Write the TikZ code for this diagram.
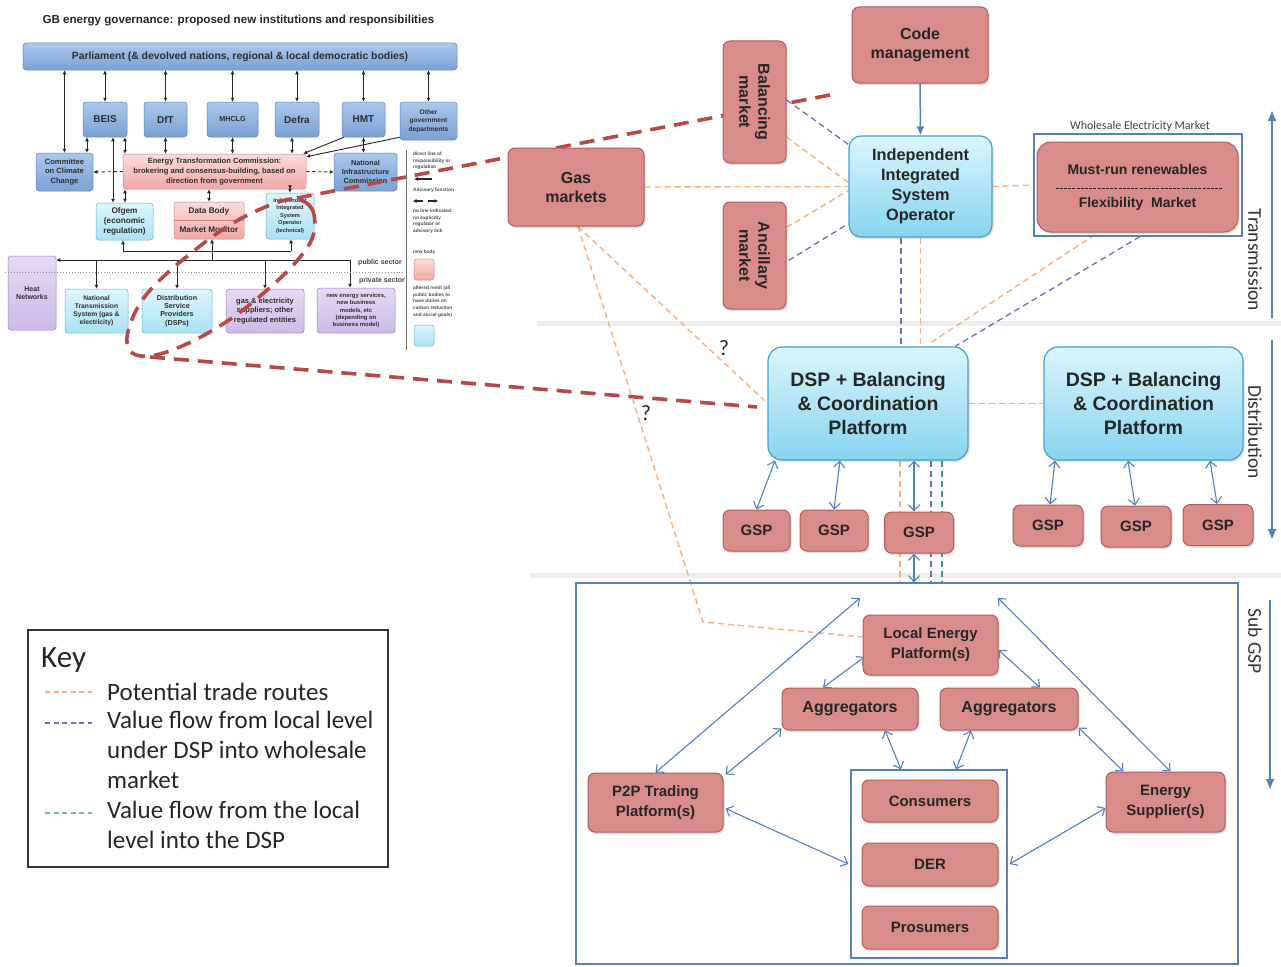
\documentclass[tikz,border=0pt]{standalone}
\usepackage{fontspec}
\setmainfont{Liberation Sans}
\newfontfamily\carl{Carlito}
\usetikzlibrary{arrows.meta,shadows,calc}

\definecolor{pinkF}{RGB}{216,141,138}
\definecolor{pinkD}{RGB}{178,92,90}
\definecolor{cyanT}{RGB}{218,245,253}
\definecolor{cyanB}{RGB}{135,212,238}
\definecolor{cyanD}{RGB}{72,160,200}
\definecolor{linkBlue}{RGB}{79,129,189}
\definecolor{tradeOr}{RGB}{241,178,120}
\definecolor{valPur}{RGB}{112,112,170}
\definecolor{valGr}{RGB}{38,170,110}
\definecolor{callRed}{RGB}{184,72,70}
\definecolor{bandGray}{RGB}{236,237,238}
\definecolor{frameBlue}{RGB}{85,128,185}
\definecolor{govT}{RGB}{170,200,236}
\definecolor{govB}{RGB}{122,160,210}
\definecolor{govD}{RGB}{95,130,182}
\definecolor{etcT}{RGB}{253,220,218}
\definecolor{etcB}{RGB}{240,168,165}
\definecolor{etcD}{RGB}{212,125,122}
\definecolor{lbT}{RGB}{222,246,252}
\definecolor{lbB}{RGB}{168,226,244}
\definecolor{lbD}{RGB}{112,172,206}
\definecolor{lavT}{RGB}{230,218,244}
\definecolor{lavB}{RGB}{204,186,230}
\definecolor{lavD}{RGB}{150,130,190}

\pgfdeclarelayer{back}
\pgfdeclarelayer{mid}
\pgfsetlayers{back,mid,main}

\tikzset{
  pinkbox/.style={draw=pinkD, line width=1pt, fill=pinkF, rounded corners=7pt, align=center,
    inner sep=0pt, text=black!85, font=\bfseries\fontsize{16}{19}\selectfont,
    drop shadow={opacity=0.25, shadow xshift=1.5pt, shadow yshift=-2pt}},
  gspbox/.style={pinkbox, minimum width=68, minimum height=41, font=\bfseries\fontsize{15}{18}\selectfont},
  localbox/.style={pinkbox, font=\bfseries\fontsize{15}{20}\selectfont},
  cyanbox/.style={draw=cyanD, line width=1.2pt, top color=cyanT, bottom color=cyanB,
    rounded corners=12pt, align=center, inner sep=0pt, text=black!85,
    drop shadow={opacity=0.25, shadow xshift=1.5pt, shadow yshift=-2pt}},
  framebox/.style={draw=frameBlue, line width=1.2pt, inner sep=0pt},
  bidi/.style={draw=linkBlue, line width=1.1pt,
    {Straight Barb[length=6pt,width=11pt,line width=1.1pt]}-{Straight Barb[length=6pt,width=11pt,line width=1.1pt]}},
  trade/.style={draw=tradeOr, line width=1.4pt, dash pattern=on 6pt off 4pt},
  wsale/.style={draw=valPur, line width=1.3pt, dash pattern=on 6pt off 4pt},
  dspval/.style={draw=valGr, line width=1.3pt, dash pattern=on 6pt off 4pt},
  callout/.style={draw=callRed, line width=3.6pt, dash pattern=on 15pt off 9pt},
  band/.style={draw=bandGray, line width=5pt},
  levelarrow/.style={draw=linkBlue, line width=2.4pt, -{Latex[length=11pt,width=9pt]}},
  levellabel/.style={rotate=-90, font=\carl\fontsize{19.5}{21}\selectfont, text=black!80},
  keytext/.style={font=\carl\fontsize{25}{30}\selectfont, text=black!85, inner sep=0pt, align=left},
  % governance inset
  gov/.style={draw=govD, line width=0.5pt, top color=govT, bottom color=govB, rounded corners=3pt,
    align=center, inner sep=0pt, text=black!82, font=\bfseries\fontsize{10}{11}\selectfont},
  newbody/.style={gov, draw=etcD, top color=etcT, bottom color=etcB},
  altered/.style={gov, draw=lbD, top color=lbT, bottom color=lbB},
  regulated/.style={gov, draw=lavD, top color=lavT, bottom color=lavB},
  gline/.style={draw=black!85, line width=0.9pt},
  gone/.style={gline, -{Latex[length=4pt,width=4pt]}},
  gtwo/.style={gline, {Latex[length=4pt,width=4pt]}-{Latex[length=4pt,width=4pt]}},
  gadv/.style={gline, dashed, -{Latex[length=4pt,width=4pt]}},
  legtext/.style={anchor=north west, align=left, inner sep=0pt, text=black!70,
    font=\bfseries\fontsize{4.8}{6.6}\selectfont},
}

\begin{document}
\begin{tikzpicture}[x=1pt,y=-1pt]
\useasboundingbox (0,0) rectangle (1281,966);

% ---------------- governance inset (bottom layer) ----------------
\begin{pgfonlayer}{back}
\fill[white] (0,0) rectangle (1281,966);

\node[anchor=west, font=\bfseries\fontsize{11.6}{13}\selectfont, text=black!85] (govtitle) at (39,21)
  {GB energy governance: proposed new institutions and responsibilities};
\node[gov, minimum width=434, minimum height=27, font=\bfseries\fontsize{10.4}{12}\selectfont] (parl) at (240,56.5)
  {Parliament (\& devolved nations, regional \& local democratic bodies)};

\node[gov, minimum width=44, minimum height=35] (beis) at (105,119.5) {BEIS};
\node[gov, minimum width=43, minimum height=35] (dft) at (165.5,119.5) {DfT};
\node[gov, minimum width=51, minimum height=35, font=\bfseries\fontsize{7.2}{8}\selectfont] (mhclg) at (232.5,119.5) {MHCLG};
\node[gov, minimum width=44, minimum height=35] (defra) at (297,119.5) {Defra};
\node[gov, minimum width=43, minimum height=35] (hmt) at (363.5,119.5) {HMT};
\node[gov, minimum width=57, minimum height=38, font=\bfseries\fontsize{6.6}{8.3}\selectfont] (other) at (428.5,121)
  {Other\\government\\departments};

\node[gov, minimum width=57, minimum height=38, font=\bfseries\fontsize{7.6}{9.5}\selectfont] (ccc) at (64.5,172)
  {Committee\\on Climate\\Change};
\node[newbody, minimum width=183, minimum height=35, font=\bfseries\fontsize{7.6}{9.6}\selectfont] (etc) at (214.5,171.5)
  {Energy Transformation Commission:\\brokering and consensus-building, based on\\direction from government};
\node[gov, minimum width=63, minimum height=38, font=\bfseries\fontsize{7.3}{9}\selectfont] (nic) at (365.5,172)
  {National\\Infrastructure\\Commission};

\node[altered, minimum width=57, minimum height=37, font=\bfseries\fontsize{8.2}{10}\selectfont] (ofgem) at (124.5,221.5)
  {Ofgem\\(economic\\regulation)};
\node[newbody, minimum width=70, minimum height=37, font=\bfseries\fontsize{8.2}{19}\selectfont] (databody) at (209,220.5)
  {Data Body\\Market Monitor};
\draw[etcD, line width=0.5pt] (databody.west) -- (databody.east);
\node[altered, minimum width=48, minimum height=46, font=\bfseries\fontsize{5.6}{7.5}\selectfont] (iso) at (290,216)
  {Independent\\Integrated\\System\\Operator\\(technical)};

\node[regulated, minimum width=48, minimum height=74, font=\bfseries\fontsize{7}{8}\selectfont] (heat) at (32,293)
  {Heat\\Networks};
\node[altered, minimum width=63, minimum height=44, font=\bfseries\fontsize{6.7}{7.9}\selectfont] (nts) at (96.5,311)
  {National\\Transmission\\System (gas \&\\electricity)};
\node[altered, minimum width=70, minimum height=44, font=\bfseries\fontsize{7.2}{8.2}\selectfont] (dsps) at (177,311)
  {Distribution\\Service\\Providers\\(DSPs)};
\node[regulated, minimum width=78, minimum height=44, font=\bfseries\fontsize{7.5}{9.2}\selectfont] (gassup) at (265,311)
  {gas \& electricity\\suppliers; other\\regulated entities};
\node[regulated, minimum width=78, minimum height=45, font=\bfseries\fontsize{5.9}{7.4}\selectfont] (newen) at (356,310.5)
  {new energy services,\\new business\\models, etc\\(depending on\\business model)};

% parliament links
\foreach \n in {ccc,beis,dft,mhclg,defra,hmt,other}
  \draw[gtwo] (parl.south -| \n.north) -- (\n.north);
% department links
\coordinate (beisA) at ($(beis.south)+(-18,0)$);
\coordinate (beisB) at ($(beis.south)+(8,0)$);
\coordinate (beisC) at ($(beis.south)+(20,0)$);
\draw[gtwo] (beisA) -- (beisA |- ccc.north);
\draw[gtwo] (beisB) -- (beisB |- ofgem.north);
\draw[gtwo] (beisC) -- (beisC |- etc.north);
\draw[gtwo] (beisC |- etc.south) -- (beisC |- ofgem.north);
\draw[gtwo] (dft.south) -- (dft.south |- etc.north);
\draw[gtwo] (mhclg.south) -- (mhclg.south |- etc.north);
\draw[gtwo] ($(defra.south)+(-5,0)$) -- ($(defra.south |- etc.north)+(-5,0)$);
\draw[gone] ($(hmt.south west)+(2,0)$) -- ($(etc.north east)+(-3,0)$);
\draw[gone] ($(other.south west)+(0,-3)$) -- ($(etc.north east)+(0,3)$);
\draw[gtwo] (hmt.south) -- (hmt.south |- nic.north);
\draw[gadv] (etc.west) -- (ccc.east);
\draw[gadv] (etc.east) -- (nic.west);
\draw[gtwo] (etc.south -| databody.north) -- (databody.north);
\draw[gtwo] (etc.south -| iso.north) -- (iso.north);
% regulation bus
\coordinate (busL) at (123,251);
\coordinate (busR) at (291,251);
\coordinate (busM) at (212,260);
\coordinate (mainR) at (350,260);
\draw[gline] (busL) -- (busR);
\draw[gone] (busL) -- (busL |- ofgem.south);
\draw[gone] (busR) -- (busR |- iso.south);
\draw[gone] (busM) -- (busM |- databody.south);
\draw[gone] (mainR) -- (heat.east |- mainR);
\foreach \n in {nts,dsps,gassup}
  \draw[gone] (\n.north |- mainR) -- (\n.north);
\draw[gone] (mainR) -- (mainR |- newen.north);
\coordinate (secL) at (5,272);
\coordinate (secR) at (404,272);
\draw[black!45, line width=0.9pt, dotted] (secL) -- (secR);
\node[font=\bfseries\fontsize{7}{8}\selectfont, text=black!75] (pub) at (380,263) {public sector};
\node[font=\bfseries\fontsize{7}{8}\selectfont, text=black!75] (priv) at (382,280.5) {private sector};

% inset legend
\coordinate (legT) at (406,150);
\coordinate (legB) at (406,350);
\draw[black!55, line width=0.7pt] (legT) -- (legB);
\node[legtext] (leg1) at (413,152) {direct line of\\responsibility or\\regulation};
\coordinate (legA1) at (432,179);
\coordinate (legA2) at (414,179);
\draw[gline, line width=1.2pt, -{Latex[length=4pt,width=4pt]}] (legA1) -- (legA2);
\node[legtext] (leg2) at (413,188) {Advisory function};
\coordinate (legD1) at (423,201);
\coordinate (legD2) at (413,201);
\coordinate (legD3) at (428,201);
\coordinate (legD4) at (438,201);
\draw[gline, line width=1.1pt, -{Latex[length=3.5pt,width=4pt]}] (legD1) -- (legD2);
\draw[gline, line width=1.1pt, -{Latex[length=3.5pt,width=4pt]}] (legD3) -- (legD4);
\node[legtext] (leg3) at (413,209) {no line indicated:\\no explicitly\\regulator or\\advisory link};
\node[legtext] (leg4) at (413,250) {new body};
\node[newbody, minimum width=20, minimum height=21] (legpink) at (424,269.5) {};
\node[legtext] (leg5) at (413,286) {altered remit (all\\public bodies to\\have duties on\\carbon reduction\\and social goals)};
\node[altered, minimum width=20, minimum height=21] (legblue) at (424,335.5) {};

% level bands
\coordinate (bandAL) at (537,323);
\coordinate (bandAR) at (1281,323);
\coordinate (bandBL) at (530,575);
\coordinate (bandBR) at (1281,575);
\draw[band] (bandAL) -- (bandAR);
\draw[band] (bandBL) -- (bandBR);
\end{pgfonlayer}

% ---------------- main nodes ----------------
\node[pinkbox, minimum width=136, minimum height=76] (code) at (920,45) {Code\\management};
\node[pinkbox, rotate=-90, minimum width=122, minimum height=63] (bal) at (754.5,102) {Balancing\\market};
\node[pinkbox, rotate=-90, minimum width=107, minimum height=63] (anc) at (754.5,255.5) {Ancillary\\market};
\node[pinkbox, minimum width=136, minimum height=78] (gas) at (576,187) {Gas\\markets};
\node[cyanbox, minimum width=143, minimum height=101, font=\bfseries\fontsize{16.3}{20}\selectfont] (iiso) at (920.5,186.5)
  {Independent\\Integrated\\System\\Operator};

\node[font=\carl\fontsize{12}{14}\selectfont, text=black!75] (wemlabel) at (1140,126) {Wholesale Electricity Market};
\node[framebox, minimum width=208, minimum height=102] (wemframe) at (1138,185) {};
\node[pinkbox, rounded corners=14pt, minimum width=201, minimum height=90, font=\bfseries\fontsize{14}{33}\selectfont] (wem)
  at (1137.5,187) {Must-run renewables\\Flexibility~~Market};
\draw[black!85, line width=1pt, dash pattern=on 3pt off 1.2pt] ($(wem.center)+(-82,1)$) -- ($(wem.center)+(84,1)$);

\node[cyanbox, rounded corners=14pt, minimum width=200, minimum height=113, font=\bfseries\fontsize{19.5}{24}\selectfont]
  (dsp1) at (868,403.5) {DSP + Balancing\\\& Coordination\\Platform};
\node[cyanbox, rounded corners=14pt, minimum width=199, minimum height=113, font=\bfseries\fontsize{19.5}{24}\selectfont]
  (dsp2) at (1143.5,403.5) {DSP + Balancing\\\& Coordination\\Platform};

\node[gspbox, minimum width=67] (g1) at (756.5,530.5) {GSP};
\node[gspbox] (g2) at (834,530.5) {GSP};
\node[gspbox, minimum width=69] (g3) at (919,532.5) {GSP};
\node[gspbox, minimum width=70] (g4) at (1048,525.5) {GSP};
\node[gspbox, minimum width=70] (g5) at (1136,526.5) {GSP};
\node[gspbox, minimum width=70] (g6) at (1218,525) {GSP};

\node[framebox, minimum width=662, minimum height=381] (subgsp) at (907,773.5) {};
\node[localbox, minimum width=135, minimum height=60] (lep) at (930.5,645) {Local Energy\\Platform(s)};
\node[localbox, minimum width=136, minimum height=42, font=\bfseries\fontsize{16}{19}\selectfont] (agg1) at (850,709) {Aggregators};
\node[localbox, minimum width=138, minimum height=42, font=\bfseries\fontsize{16}{19}\selectfont] (agg2) at (1009,709) {Aggregators};
\node[localbox, minimum width=135, minimum height=59] (p2p) at (655.5,802.5) {P2P Trading\\Platform(s)};
\node[localbox, minimum width=119, minimum height=60] (es) at (1165.5,802) {Energy\\Supplier(s)};
\node[framebox, minimum width=156, minimum height=188] (cbox) at (929,864) {};
\node[localbox, minimum width=136, minimum height=42] (cons) at (930,801) {Consumers};
\node[localbox, minimum width=136, minimum height=43] (der) at (930,864.5) {DER};
\node[localbox, minimum width=136, minimum height=43] (pros) at (930,927.5) {Prosumers};

\node[font=\carl\fontsize{22}{24}\selectfont, text=black!85] (q1) at (724,348) {?};
\node[font=\carl\fontsize{22}{24}\selectfont, text=black!85] (q2) at (646,413) {?};

% voltage-level arrows
\coordinate (trB) at (1272,318);
\coordinate (trT) at (1272,110);
\draw[levelarrow] (trB) -- (trT);
\node[levellabel] (trl) at (1255,260) {Transmission};
\coordinate (diT) at (1272,340);
\coordinate (diB) at (1272,540);
\draw[levelarrow] (diT) -- (diB);
\node[levellabel] (dil) at (1255,432) {Distribution};
\coordinate (sgT) at (1270,600);
\coordinate (sgB) at (1270,790);
\draw[levelarrow] (sgT) -- (sgB);
\node[levellabel] (sgl) at (1255,641) {Sub GSP};

% key
\node[draw=black!80, line width=1.3pt, minimum width=360, minimum height=237, inner sep=0pt] (key) at (208,748.5) {};
\node[anchor=west, font=\carl\fontsize{31}{33}\selectfont, text=black!85, inner sep=0pt] (keyt) at (41,660) {Key};
\coordinate (k1a) at (45,692); \coordinate (k1b) at (92,692);
\coordinate (k2a) at (45,723); \coordinate (k2b) at (92,723);
\coordinate (k3a) at (45,813); \coordinate (k3b) at (92,813);
\draw[trade, dash pattern=on 5pt off 3.5pt] (k1a) -- (k1b);
\draw[wsale, dash pattern=on 5pt off 3.5pt] (k2a) -- (k2b);
\draw[dspval, draw=valGr!70, dash pattern=on 5pt off 3.5pt] (k3a) -- (k3b);
\node[keytext, anchor=west] (k1) at (107,692) {Potential trade routes};
\node[keytext, anchor=north west] (k2) at (107,711) {Value flow from local level\\under DSP into wholesale\\market};
\node[keytext, anchor=north west] (k3) at (107,801) {Value flow from the local\\level into the DSP};

% ---------------- connectors (under the boxes) ----------------
\begin{pgfonlayer}{mid}
% zoom call-outs from the governance inset
\coordinate (calloutA) at (830,95);
\coordinate (loopTop) at (292,199);
\coordinate (loopBot) at (150,357);
\coordinate (calloutB) at (757,407);
\draw[callout] (calloutA) -- (loopTop);
\draw[callout] plot[smooth cycle, tension=0.6] coordinates {
  (292,199) (312,209) (313,236) (296,262) (266,291) (232,318) (195,340) (160,354)
  (136,355) (127,343) (131,322) (143,299) (163,277) (190,254) (222,230) (256,211)};
\draw[callout] (loopBot) -- (calloutB);

% transmission level
\draw[draw=linkBlue, line width=1.5pt, -{Latex[length=9pt,width=8pt]}] (code.south) -- (iiso.north);
\draw[wsale] ($(bal.north)+(0,-2)$) -- ($(iiso.north west)+(0,9)$);
\draw[trade] ($(bal.north)+(0,35)$) -- ($(iiso.west)+(0,-4)$);
\draw[trade] (gas.east) -- (iiso.west);
\draw[trade] ($(anc.north)+(0,-28)$) -- ($(iiso.west)+(0,4)$);
\draw[wsale] ($(anc.north)+(2,5)$) -- ($(iiso.south west)+(0,-14)$);
\draw[trade] (iiso.east) -- (wemframe.west);
\draw[wsale] ($(iiso.south)+(-19.5,0)$) -- ($(dsp1.north)+(33,0)$);
\draw[trade] (iiso.south) -- ($(dsp1.north)+(52.5,0)$);
\draw[trade] ($(wemframe.south)+(-43,-2)$) -- ($(dsp1.north)+(60,-2)$);
\draw[wsale] ($(wemframe.south)+(2,0)$) -- ($(dsp1.north)+(87,0)$);

% gas market routes
\coordinate (gasBend) at (703,622);
\draw[trade] ($(gas.south)+(2,0)$) -- ($(dsp1.west)+(-3,-3)$);
\draw[trade] ($(gas.south)+(2,0)$) -- (gasBend) -- ($(lep.west)+(0,-8)$);

% distribution level
\draw[trade] (dsp1.east) -- (dsp2.west);
\draw[trade] ($(dsp1.south)+(32,0)$) -- ($(dsp1.south |- subgsp.north)+(32,0)$);
\draw[wsale] ($(dsp1.south)+(63,0)$) -- ($(dsp1.south |- subgsp.north)+(63,0)$);
\draw[dspval] ($(dsp1.south)+(74,0)$) -- ($(dsp1.south |- subgsp.north)+(74,0)$);
\draw[bidi] ($(dsp1.south)+(-93,0)$) -- (g1.north);
\draw[bidi] ($(dsp1.south)+(-28,0)$) -- (g2.north);
\draw[bidi] ($(dsp1.south)+(46,0)$) -- ($(g3.north)+(-5,0)$);
\draw[bidi] ($(dsp2.south)+(-88.5,0)$) -- ($(g4.north)+(2,0)$);
\draw[bidi] ($(dsp2.south)+(-15.5,0)$) -- ($(g5.north)+(-1,0)$);
\draw[bidi] ($(dsp2.south)+(66.5,0)$) -- ($(g6.north)+(-1,0)$);
\coordinate (g3b) at ($(g3.south)+(-5,0)$);
\draw[bidi] (g3b) -- (g3b |- subgsp.north);

% sub-GSP level
\coordinate (upL) at (860,598);
\coordinate (upR) at (998,598);
\draw[bidi] (p2p.north) -- (upL);
\draw[bidi] ($(es.north)+(5,0)$) -- (upR);
\draw[bidi] ($(lep.west)+(2,12)$) -- ($(agg1.north)+(-27,0)$);
\draw[bidi] ($(lep.east)+(0,5)$) -- ($(agg2.north)+(31,0)$);
\draw[bidi] ($(agg1.south west)+(0,-2)$) -- ($(p2p.north east)+(2,2)$);
\draw[bidi] ($(agg1.south)+(35,0)$) -- ($(cbox.north)+(-28,0)$);
\draw[bidi] ($(agg2.south)+(-38,0)$) -- ($(cbox.north)+(27,0)$);
\draw[bidi] ($(agg2.south east)+(0,-3)$) -- ($(es.north west)+(18,0)$);
\draw[bidi] ($(p2p.east)+(2,6)$) -- ($(cbox.west)+(-2,0)$);
\draw[bidi] ($(es.west)+(0,6)$) -- ($(cbox.east)+(2,0)$);
\end{pgfonlayer}
\end{tikzpicture}
\end{document}
